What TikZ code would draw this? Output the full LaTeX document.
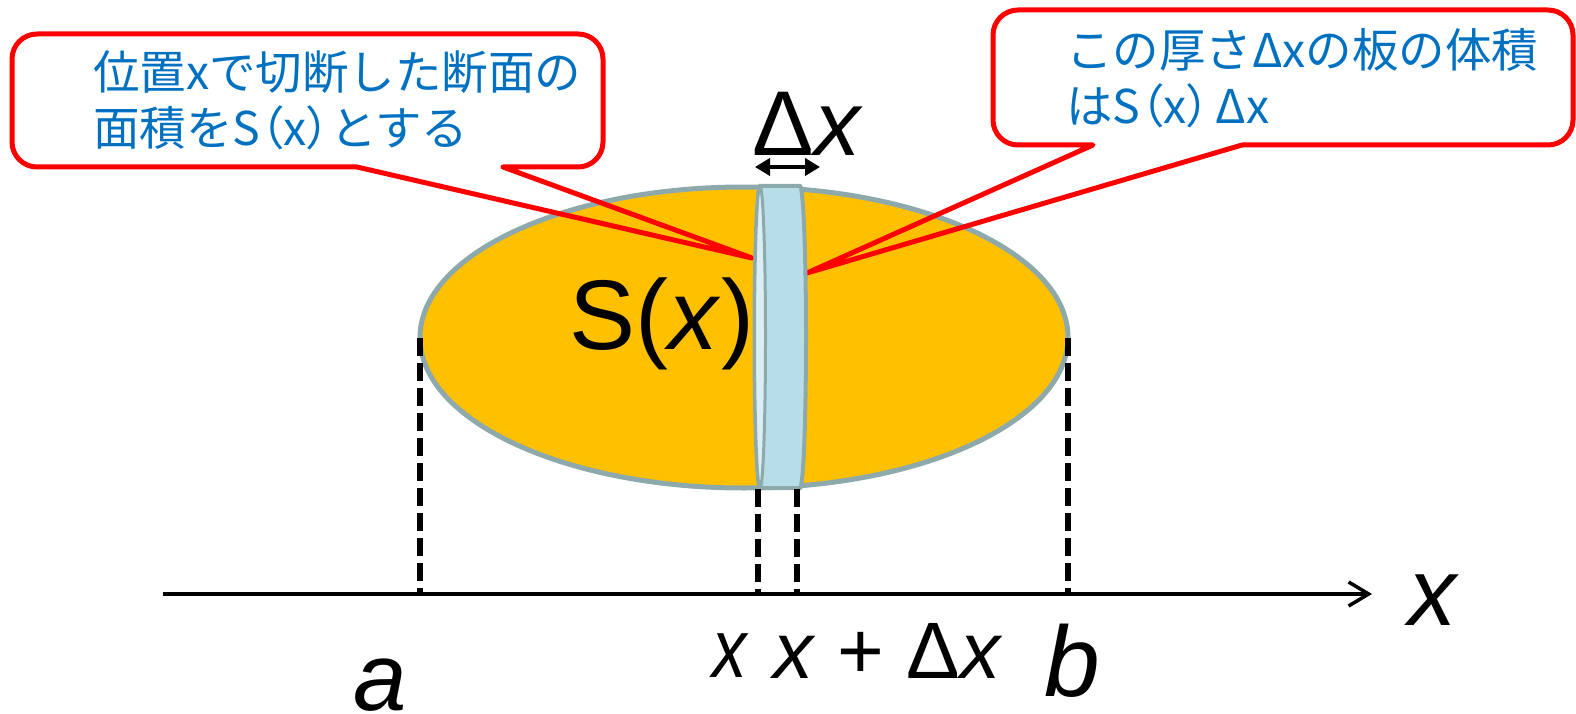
\documentclass[tikz,border=0pt]{standalone}
\usepackage{fontspec}
\setmainfont{Liberation Sans}
\newfontfamily\jp{Noto Sans CJK JP}
\newfontfamily\jpp[RawFeature=+palt]{Noto Sans CJK JP}
\usetikzlibrary{arrows.meta}
\definecolor{solidfill}{HTML}{FFC000}
\definecolor{solidedge}{HTML}{8EA9AB}
\definecolor{slabfill}{HTML}{B7DEE8}
\definecolor{slabface}{HTML}{DAEEF3}
\definecolor{callred}{HTML}{FF0000}
\definecolor{textblue}{HTML}{0070C0}
\newcommand{\lp}{{\jpp （}}
\newcommand{\rp}{{\jpp ）}}
\tikzset{
  solidshape/.style={fill=solidfill, draw=solidedge, line width=5pt},
  slabshape/.style={fill=slabfill, draw=solidedge, line width=4pt},
  faceshape/.style={fill=slabface, draw=solidedge, line width=3pt},
  calloutline/.style={draw=callred, line width=5pt, line join=round},
  calltext/.style={text=textblue, font=\jp\fontsize{46.5}{56}\selectfont, align=left, inner sep=0pt, anchor=west},
  dropline/.style={draw=black, line width=6pt, dash pattern=on 18pt off 7pt},
  axisline/.style={draw=black, line width=4pt, -{Straight Barb[length=20pt,width=24pt,line width=3.5pt]}},
  label/.style={inner sep=0pt, text=black}
}
\begin{document}
\begin{tikzpicture}[x=1pt,y=1pt]
\useasboundingbox (0,0) rectangle (1576,-714);
% solid
\draw[solidshape] (744,-337.5) ellipse[x radius=324, y radius=150.5];
% callout tips
\coordinate (tipL) at (752,-258);
\coordinate (tipR) at (807,-273);
% left callout
\draw[calloutline] (357,-167) -- (37,-167) arc[start angle=270,end angle=180,radius=25]
  -- (12,-59) arc[start angle=180,end angle=90,radius=25]
  -- (578,-34) arc[start angle=90,end angle=0,radius=25]
  -- (603,-142) arc[start angle=0,end angle=-90,radius=25]
  -- (503,-167) -- (tipL) -- cycle;
% right callout
\draw[calloutline] (1242,-145) -- (1548,-145) arc[start angle=270,end angle=360,radius=25]
  -- (1573,-35) arc[start angle=0,end angle=90,radius=25]
  -- (1018,-10) arc[start angle=90,end angle=180,radius=25]
  -- (993,-120) arc[start angle=180,end angle=270,radius=25]
  -- (1093,-145) -- (tipR) -- cycle;
% slab
\draw[slabshape] (760,-186) -- (800,-186) arc[start angle=90,end angle=-90,x radius=6,y radius=151]
  -- (760,-488) arc[start angle=270,end angle=90,x radius=5.5,y radius=151] -- cycle;
\draw[faceshape] (760,-337) ellipse[x radius=5.5, y radius=151];
% drop lines
\coordinate (aTop) at (420,-338);
\coordinate (aBot) at (420,-594);
\coordinate (bTop) at (1068,-338);
\coordinate (bBot) at (1068,-594);
\coordinate (xTop) at (758,-489);
\coordinate (xBot) at (758,-594);
\coordinate (dTop) at (797,-489);
\coordinate (dBot) at (797,-594);
\draw[dropline] (aTop) -- (aBot);
\draw[dropline] (bTop) -- (bBot);
\draw[dropline] (xTop) -- (xBot);
\draw[dropline] (dTop) -- (dBot);
% axis
\coordinate (axL) at (163,-594);
\coordinate (axR) at (1372,-594);
\draw[axisline] (axL) -- (axR);
% thickness arrow
\coordinate (thL) at (755,-167);
\coordinate (thR) at (820,-167);
\draw[line width=4pt, {Triangle[length=15pt,width=17pt]}-{Triangle[length=15pt,width=17pt]}] (thL) -- (thR);
% labels
\node[label, font=\fontsize{92}{92}\selectfont] (dxtop) at (808,-124) {Δ\textit{x}};
\node[label, font=\fontsize{99}{99}\selectfont] (sx) at (662,-324) {S(\textit{x})};
\node[label, font=\fontsize{96}{96}\selectfont\itshape] (xaxis) at (1432,-600) {x};
\node[label, font=\fontsize{96}{96}\selectfont\itshape] (la) at (380,-685) {a};
\node[label, font=\fontsize{100}{100}\selectfont\itshape] (lb) at (1072,-661) {b};
\node[label, font=\fontsize{83}{83}\selectfont\itshape, xscale=0.83] (lx) at (730,-656) {x};
\node[label, font=\fontsize{80}{80}\selectfont] (lxdx) at (888,-651) {\textit{x} + Δ\textit{x}};
% callout texts
\node[calltext] (textL) at (93,-100) {位置xで切断した断面の\\面積をS\lp x\rp とする};
\node[calltext] (textR) at (1066,-78) {この厚さΔxの板の体積\\はS\lp x\rp\kern0.12em Δx};
\end{tikzpicture}
\end{document}
